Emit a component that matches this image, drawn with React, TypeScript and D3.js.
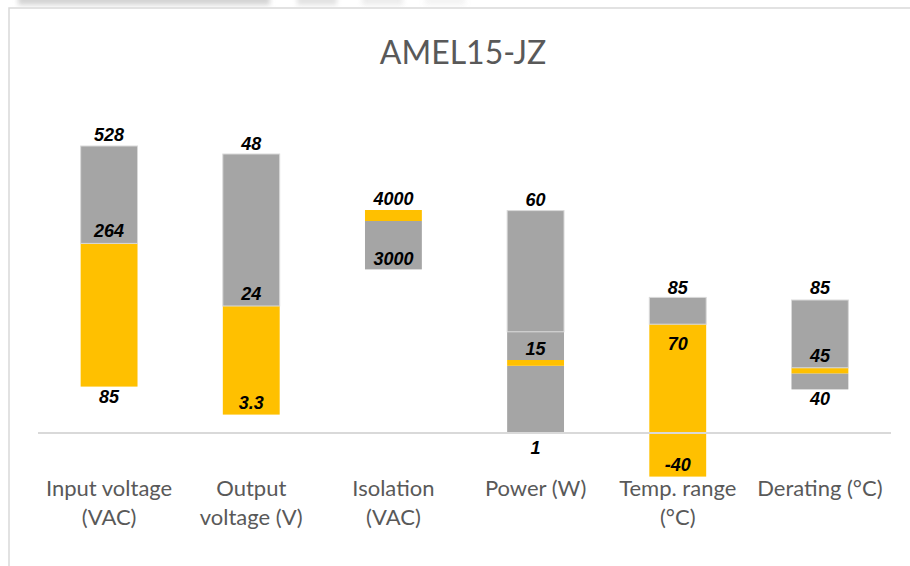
import React, { useEffect, useRef } from "react";
import * as d3 from "d3";

// categories on the x axis
const categories = [
  "Input voltage (VAC)",
  "Output voltage (V)",
  "Isolation (VAC)",
  "Power (W)",
  "Temp. range (°C)",
  "Derating (°C)",
];

// stacked series in chart units (bottom to top)
const baseGap = [11.6, 4.6, 40.9, 0, 0, 10.9]; // invisible
const greyLow = [0, 0, 12.1, 16.8, 0, 4.0];
const yellowNeg = [0, 0, 0, 0, -10.9, 0];
const yellowBand = [35.8, 27.15, 2.75, 1.45, 27.2, 1.4];
const greyMid = [0, 0, 0, 7.05, 0, 0];
const greyHigh = [24.35, 38.0, 0, 30.3, 6.7, 16.95];

// data labels: category index, text, position in chart units
const labelCat = [0, 0, 0, 1, 1, 1, 2, 2, 3, 3, 3, 4, 4, 4, 5, 5, 5];
const labelText = ["528", "264", "85", "48", "24", "3.3", "4000", "3000", "60", "15", "1", "85", "70", "-40", "85", "45", "40"];
const labelAt = [74.5, 50.5, 9.1, 72.25, 34.75, 7.6, 58.7, 43.7, 58.4, 21, -3.75, 36.4, 22.4, -7.8, 36.4, 19.25, 8.7];

const W = 910;
const H = 566;
const GREY = "#a5a5a5";
const YELLOW = "#ffc000";
const TEXT = "#595959";
const FONT = "Lato, 'Open Sans', sans-serif";

const drawChart = (el: SVGSVGElement) => {
  const svg = d3.select(el);
  svg.selectAll("*").remove();

  const defs = svg.append("defs");
  defs.append("filter").attr("id", "blur").append("feGaussianBlur").attr("stdDeviation", 2.5);

  svg.append("rect").attr("width", W).attr("height", H).attr("fill", "#fff");

  // blurred toolbar shadow at the top of the screenshot
  const shadow = svg.append("g").attr("filter", "url(#blur)").attr("fill", "#cfcfcf");
  [[18, 252, 0.9], [297, 40, 0.6], [362, 41, 0.4], [425, 40, 0.25]].forEach(([x0, w, o]) => {
    shadow.append("rect").attr("x", x0).attr("y", -6).attr("width", w).attr("height", 11).attr("opacity", o);
  });

  // chart frame
  svg
    .append("path")
    .attr("d", `M9,${H} L9,8 L${W},8`)
    .attr("fill", "none")
    .attr("stroke", "#d9d9d9")
    .attr("stroke-width", 1.5);

  svg
    .append("text")
    .attr("x", 463)
    .attr("y", 64)
    .attr("text-anchor", "middle")
    .attr("font-family", FONT)
    .attr("font-size", 32)
    .attr("fill", TEXT)
    .text("AMEL15-JZ");

  const x = d3.scaleBand().domain(categories).range([38, 891]).paddingInner(0.6).paddingOuter(0.3);
  const y = d3.scaleLinear().domain([-12, 80]).range([481, 113]);

  const keys = ["base", "greyLow", "yellowNeg", "yellow", "greyMid", "greyHigh"];
  const table = categories.map((c, i) => ({
    cat: c,
    base: baseGap[i],
    greyLow: greyLow[i],
    yellowNeg: yellowNeg[i],
    yellow: yellowBand[i],
    greyMid: greyMid[i],
    greyHigh: greyHigh[i],
  }));
  const stack = d3.stack<any>().keys(keys).offset(d3.stackOffsetDiverging);
  const series = stack(table);

  const fillOf: Record<string, string> = {
    base: "none",
    greyLow: GREY,
    yellowNeg: YELLOW,
    yellow: YELLOW,
    greyMid: GREY,
    greyHigh: GREY,
  };

  series.forEach((s) => {
    if (s.key === "base") return;
    svg
      .append("g")
      .selectAll("rect")
      .data(s.filter((d) => d[1] !== d[0]))
      .enter()
      .append("rect")
      .attr("x", (d) => x(d.data.cat)!)
      .attr("width", x.bandwidth())
      .attr("y", (d) => y(Math.max(d[0], d[1])))
      .attr("height", (d) => Math.abs(y(d[0]) - y(d[1])))
      .attr("fill", fillOf[s.key])
      .attr("stroke", s.key === "greyHigh" ? "#d9d9d9" : "none")
      .attr("stroke-width", 1);
  });

  // category axis line (drawn over bars)
  svg
    .append("line")
    .attr("x1", 38)
    .attr("x2", 891)
    .attr("y1", y(0))
    .attr("y2", y(0))
    .attr("stroke", "#d9d9d9")
    .attr("stroke-width", 2);

  // data labels
  svg
    .append("g")
    .selectAll("text")
    .data(labelText)
    .enter()
    .append("text")
    .attr("x", (d, i) => x(categories[labelCat[i]])! + x.bandwidth() / 2)
    .attr("y", (d, i) => y(labelAt[i]))
    .attr("dy", "0.36em")
    .attr("text-anchor", "middle")
    .attr("font-family", "'Liberation Sans', Arial, sans-serif")
    .attr("font-size", 18)
    .attr("font-weight", "bold")
    .attr("font-style", "italic")
    .attr("fill", "#000")
    .text((d) => d);

  // category labels, wrapped to the band
  const maxW = 135;
  categories.forEach((c) => {
    const cx = x(c)! + x.bandwidth() / 2;
    const t = svg
      .append("text")
      .attr("x", cx)
      .attr("y", 496)
      .attr("text-anchor", "middle")
      .attr("font-family", FONT)
      .attr("font-size", 22)
      .attr("fill", TEXT);
    const words = c.split(" ");
    let line: string[] = [];
    let tspan = t.append("tspan").attr("x", cx).attr("dy", 0);
    words.forEach((w) => {
      line.push(w);
      tspan.text(line.join(" "));
      if ((tspan.node() as SVGTSpanElement).getComputedTextLength() > maxW && line.length > 1) {
        line.pop();
        tspan.text(line.join(" "));
        line = [w];
        tspan = t.append("tspan").attr("x", cx).attr("dy", 29).text(w);
      }
    });
  });
};

const App = () => {
  const ref = useRef<SVGSVGElement>(null);
  useEffect(() => {
    if (ref.current) drawChart(ref.current);
  });
  return (
    <svg
      ref={ref}
      width={W}
      height={H}
      style={{ position: "absolute", left: 0, top: 0, display: "block" }}
    />
  );
};

export default App;
